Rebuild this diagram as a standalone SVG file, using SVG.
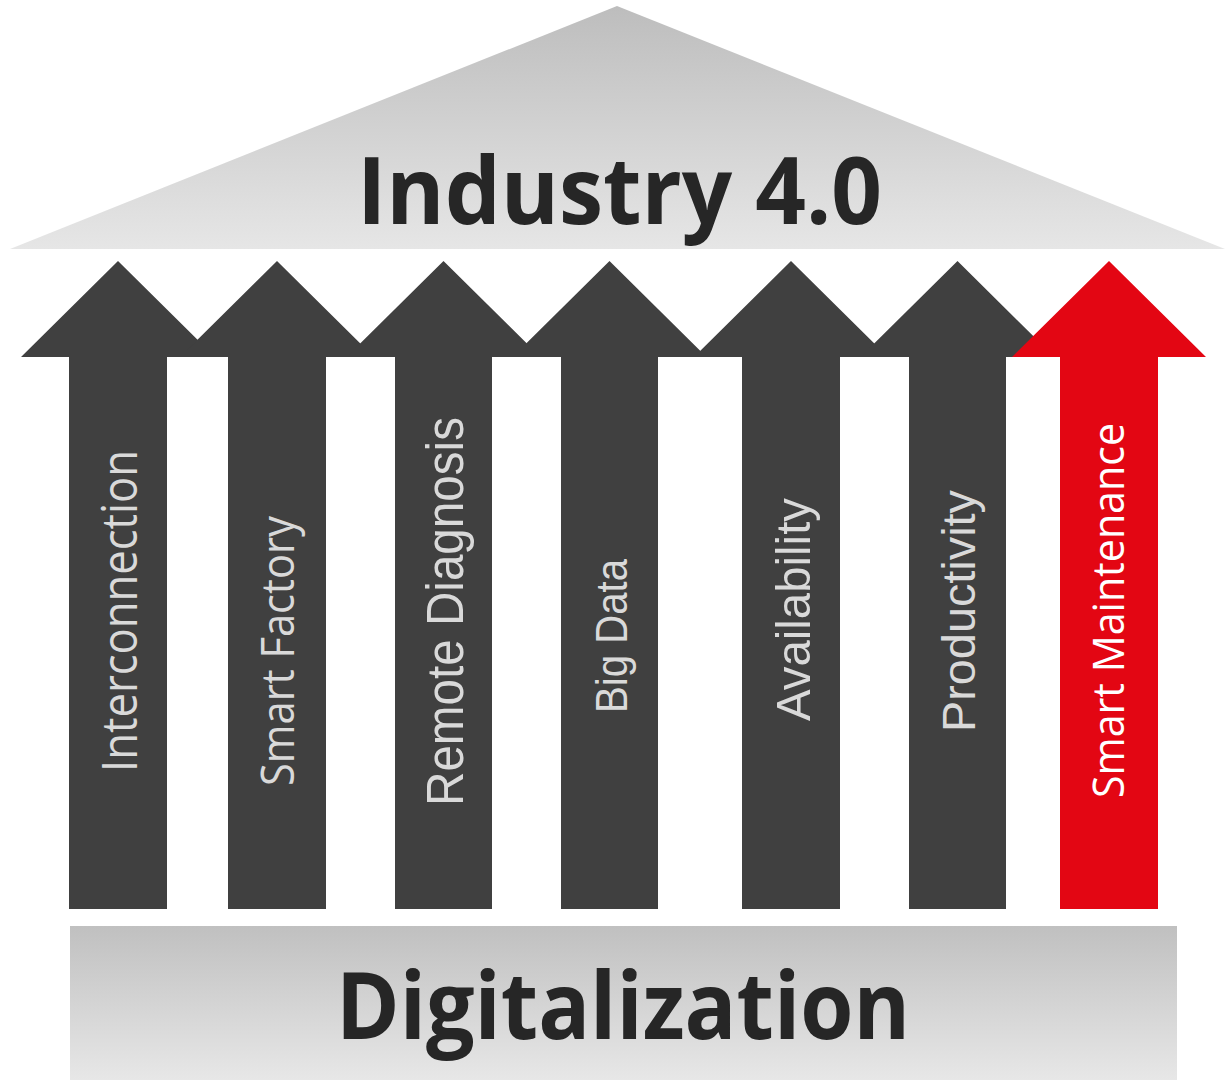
<svg xmlns="http://www.w3.org/2000/svg" width="1232" height="1080" viewBox="0 0 1232 1080">
<defs>
<linearGradient id="gRoof" x1="0" y1="0" x2="0" y2="1">
<stop offset="0" stop-color="#bdbdbd"/>
<stop offset="1" stop-color="#e6e6e6"/>
</linearGradient>
<linearGradient id="gBase" x1="0" y1="0" x2="0" y2="1">
<stop offset="0" stop-color="#c0c0c0"/>
<stop offset="1" stop-color="#e7e7e7"/>
</linearGradient>
<style>
.arrow{fill:#404040}
.red{fill:#e30613}
.title{font-family:"Open Sans","Liberation Sans",sans-serif;font-weight:700;fill:#262626}
.lbl{fill:#d9d9d9}
.os{font-family:"Open Sans","Liberation Sans",sans-serif}
.ar{font-family:"Liberation Sans",Arial,sans-serif}
</style>
</defs>
<rect width="1232" height="1080" fill="#ffffff"/>
<g id="roof">
<polygon points="617,6 10,249 1225,249" fill="url(#gRoof)"/>
<text class="title" x="357" y="224" font-size="94" textLength="525" lengthAdjust="spacingAndGlyphs">Industry 4.0</text>
</g>
<g id="base">
<rect x="70" y="926" width="1107" height="154" fill="url(#gBase)"/>
<text class="title" x="336" y="1039" font-size="94" textLength="574" lengthAdjust="spacingAndGlyphs">Digitalization</text>
</g>
<g id="arrow-interconnection">
<polygon class="arrow" points="118,261 215,357 167,357 167,909 69,909 69,357 21,357"/>
<text class="lbl os" transform="translate(137,772) rotate(-90)" font-size="49" textLength="322" lengthAdjust="spacingAndGlyphs">Interconnection</text>
</g>
<g id="arrow-smart-factory">
<polygon class="arrow" points="277,261 374,357 326,357 326,909 228,909 228,357 180,357"/>
<text class="lbl os" transform="translate(294,786) rotate(-90)" font-size="45" textLength="270" lengthAdjust="spacingAndGlyphs">Smart Factory</text>
</g>
<g id="arrow-remote-diagnosis">
<polygon class="arrow" points="443.5,261 540.5,357 492,357 492,909 395,909 395,357 346.5,357"/>
<text class="lbl ar" transform="translate(463,806) rotate(-90)" font-size="51" textLength="389" lengthAdjust="spacingAndGlyphs">Remote Diagnosis</text>
</g>
<g id="arrow-big-data">
<polygon class="arrow" points="609.5,261 706.5,357 658,357 658,909 561,909 561,357 512.5,357"/>
<text class="lbl ar" transform="translate(627,713) rotate(-90)" font-size="45" textLength="154" lengthAdjust="spacingAndGlyphs">Big Data</text>
</g>
<g id="arrow-availability">
<polygon class="arrow" points="791,261 888,357 840,357 840,909 742,909 742,357 694,357"/>
<text class="lbl ar" transform="translate(810,721) rotate(-90)" font-size="49" textLength="223" lengthAdjust="spacingAndGlyphs">Availability</text>
</g>
<g id="arrow-productivity">
<polygon class="arrow" points="957.5,261 1054.5,357 1006,357 1006,909 909,909 909,357 860.5,357"/>
<text class="lbl ar" transform="translate(975,732) rotate(-90)" font-size="46" textLength="242" lengthAdjust="spacingAndGlyphs">Productivity</text>
</g>
<g id="arrow-smart-maintenance">
<polygon class="red" points="1109,261 1206,357 1158,357 1158,909 1060,909 1060,357 1012,357"/>
<text class="os" fill="#ffffff" transform="translate(1124,798) rotate(-90)" font-size="43" textLength="375" lengthAdjust="spacingAndGlyphs">Smart Maintenance</text>
</g>
<g id="connectors"></g>
</svg>
